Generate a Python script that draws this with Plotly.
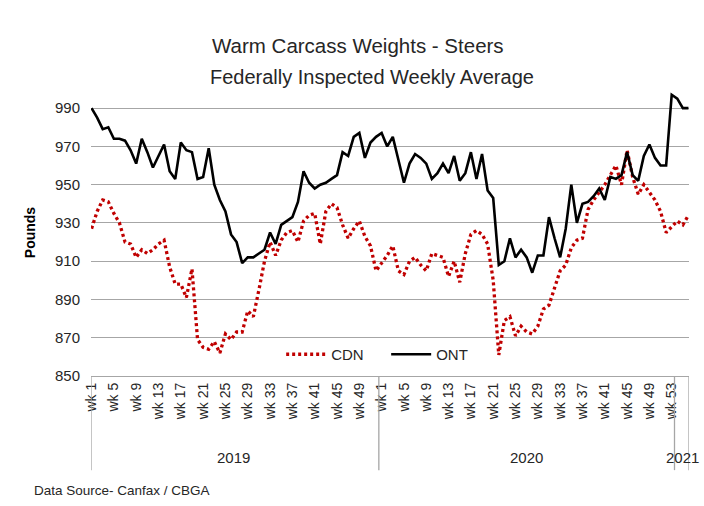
import plotly.graph_objects as go

# ---- data ----
years = ["2019", "2020", "2021"]
weeks_per_year = [52, 53, 3]

cdn = [927, 936, 942, 941, 935, 930, 920, 919, 912, 916,
       914, 916, 919, 921, 907, 898, 898, 891, 906, 869,
       865, 864, 868, 862, 872, 869, 873, 873, 884, 881,
       895, 910, 920, 913, 921, 925, 926, 920, 931, 934,
       935, 919, 936, 940, 938, 929, 922, 927, 931, 923,
       918, 905, 909, 913, 918, 905, 903, 910, 912, 908,
       905, 914, 913, 912, 902, 910, 899, 914, 924, 926,
       924, 919, 900, 861, 879, 881, 871, 876, 873, 872,
       876, 885, 887, 896, 905, 908, 917, 921, 922, 937,
       942, 946, 950, 955, 960, 950, 968, 954, 945, 950,
       946, 942, 936, 925, 928, 931, 929, 934]

ont = [990, 985, 979, 980, 974, 974, 973, 968, 961, 974,
       967, 959, 965, 971, 957, 953, 972, 968, 967, 953,
       954, 969, 950, 942, 936, 924, 920, 909, 912, 912,
       914, 916, 925, 919, 929, 931, 933, 941, 957, 951,
       948, 950, 951, 953, 955, 967, 965, 975, 977, 964,
       972, 975, 977, 970, 975, 963, 951, 961, 966, 964,
       961, 953, 956, 961, 956, 965, 952, 956, 967, 953,
       966, 947, 943, 908, 910, 922, 912, 916, 912, 904,
       913, 913, 933, 922, 912, 927, 950, 930, 940, 941,
       944, 948, 942, 954, 953, 955, 967, 955, 952, 965,
       971, 964, 960, 960, 997, 995, 990, 990]

y_ticks = [850, 870, 890, 910, 930, 950, 970, 990]
label_every = 4

# ---- derived category structure ----
week_labels = []
year_of = []
for yr, n in zip(years, weeks_per_year):
    for w in range(1, n + 1):
        week_labels.append(f"wk {w}")
        year_of.append(yr)
idx = list(range(len(week_labels)))

tickvals = idx[::label_every]
ticktext = [week_labels[i] for i in tickvals]

FONT = "Liberation Sans, Arial, sans-serif"
TXT = "#262626"

fig = go.Figure()
fig.add_trace(go.Scatter(
    x=idx, y=cdn, name="CDN", mode="lines",
    line=dict(color="#C00000", width=3.3, dash="3px,3px"),
    customdata=list(zip(year_of, week_labels)),
))
fig.add_trace(go.Scatter(
    x=idx, y=ont, name="ONT", mode="lines",
    line=dict(color="black", width=2.6),
    customdata=list(zip(year_of, week_labels)),
))

n = len(idx)
xr = [-0.1, n - 1 + 0.1]

# group boundaries and labels
bounds = [xr[0]]
start = 0
centers = []
for k, cnt in enumerate(weeks_per_year):
    end = start + cnt - 1
    centers.append((start + end) / 2)
    bounds.append(end + 0.5 if k < len(weeks_per_year) - 1 else xr[1])
    start = end + 1

shapes = []
for b in bounds:
    shapes.append(dict(type="line", xref="x", yref="paper", x0=b, x1=b,
                       y0=0, y1=-0.328, line=dict(color="#A6A6A6", width=1.3)))

annotations = []
for yr, c in zip(years, centers):
    annotations.append(dict(text=yr, x=c, xref="x", y=-0.285, yref="paper",
                            showarrow=False, yanchor="middle",
                            font=dict(family=FONT, size=15, color=TXT)))

annotations += [
    dict(text="Warm Carcass Weights - Steers", xref="paper", yref="paper",
         x=0.447, y=1.153, showarrow=False, yanchor="middle",
         font=dict(family=FONT, size=20.5, color=TXT)),
    dict(text="Federally Inspected Weekly Average", xref="paper", yref="paper",
         x=0.470, y=1.042, showarrow=False, yanchor="middle",
         font=dict(family=FONT, size=20, color=TXT)),
    dict(text="Data Source- Canfax / CBGA", xref="paper", yref="paper",
         x=-0.098, xanchor="left", y=-0.40, showarrow=False, yanchor="middle",
         font=dict(family=FONT, size=13.5, color=TXT)),
]

fig.update_layout(
    width=704, height=506,
    margin=dict(l=91, r=15, t=89, b=130),
    paper_bgcolor="white", plot_bgcolor="white",
    font=dict(family=FONT, color=TXT),
    showlegend=True,
    legend=dict(orientation="h", x=0.318, xanchor="left", y=0.075, yanchor="middle",
                bgcolor="rgba(0,0,0,0)", font=dict(family=FONT, size=15, color=TXT),
                itemwidth=40, entrywidth=50, entrywidthmode="pixels", tracegroupgap=0),
    shapes=shapes,
    annotations=annotations,
    xaxis=dict(range=xr, tickvals=tickvals, ticktext=ticktext, tickangle=-90,
               automargin=False,
               showgrid=False, zeroline=False, showline=True, linecolor="#A6A6A6",
               linewidth=1.3, ticks="", tickfont=dict(family=FONT, size=14, color=TXT)),
    yaxis=dict(range=[850, 1000], tickvals=y_ticks, showgrid=True, gridcolor="#A6A6A6",
               automargin=False,
               gridwidth=1.3, zeroline=False, showline=False, ticks="",
               ticklabelstandoff=10,
               tickfont=dict(family=FONT, size=15, color=TXT),
               title=dict(text="<b>Pounds</b>", font=dict(family=FONT, size=14, color="black"),
                          standoff=16)),
)

fig.write_html("out.html",
               config={"displayModeBar": False},
               post_script="document.body.style.margin='0';document.body.style.padding='0';")
